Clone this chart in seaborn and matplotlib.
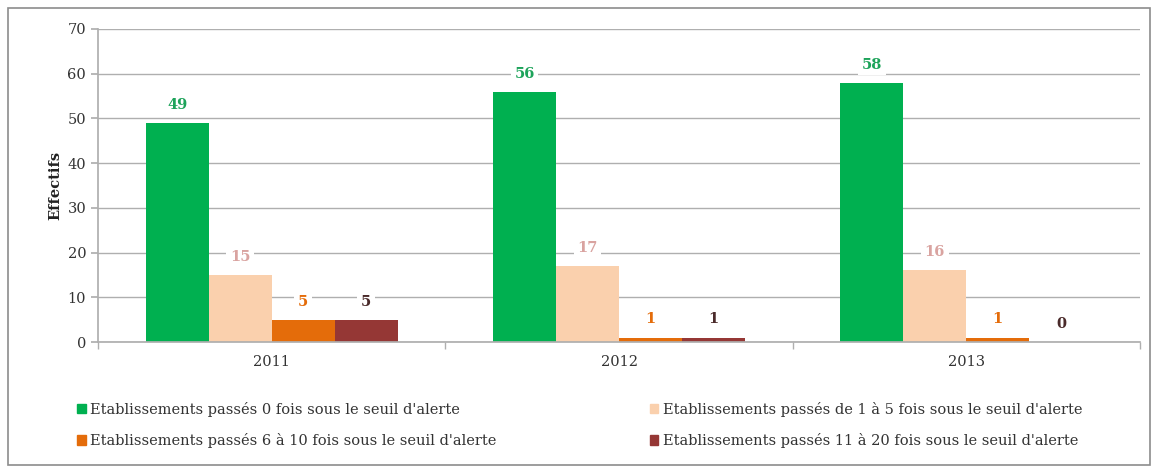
import matplotlib
matplotlib.use("Agg")
import matplotlib.pyplot as plt
import seaborn as sns
import pandas as pd
from matplotlib.patches import Rectangle, Patch

years = ["2011", "2012", "2013"]
series = [
    "Etablissements passés 0 fois sous le seuil d'alerte",
    "Etablissements passés de 1 à 5 fois sous le seuil d'alerte",
    "Etablissements passés 6 à 10 fois sous le seuil d'alerte",
    "Etablissements passés 11 à 20 fois sous le seuil d'alerte",
]
v0 = [49, 56, 58]
v1_5 = [15, 17, 16]
v6_10 = [5, 1, 1]
v11_20 = [5, 1, 0]
colors = ["#00B050", "#FAD0AD", "#E46C0A", "#953735"]
label_colors = ["#1DA35A", "#D9A3A0", "#E46C0A", "#4A2A2A"]

rows = []
for s, vals in zip(series, [v0, v1_5, v6_10, v11_20]):
    for y, v in zip(years, vals):
        rows.append({"Année": y, "Série": s, "Effectifs": v})
df = pd.DataFrame(rows)

sns.set_theme(style="white")
plt.rcParams["font.family"] = ["DejaVu Serif"]

fig = plt.figure(figsize=(11.59, 4.71), dpi=100)
ax = fig.add_axes([98/1159, 1-342/471, (1140-98)/1159, (342-29)/471])

sns.barplot(data=df, x="Année", y="Effectifs", hue="Série", hue_order=series,
            palette=colors, width=0.726, saturation=1, ax=ax, legend=False,
            edgecolor="none", linewidth=0)

ax.set_ylim(0, 70)
ax.set_yticks(range(0, 71, 10))
ax.grid(axis="y", color="#AFAFAF", linewidth=1)
ax.set_axisbelow(True)
for side in ["top", "right"]:
    ax.spines[side].set_visible(False)
ax.spines["left"].set_color("#AFAFAF")
ax.spines["bottom"].set_color("#AFAFAF")
ax.tick_params(axis="y", left=True, length=5, color="#AFAFAF", labelsize=10.5, labelcolor="#333333")
ax.tick_params(axis="x", bottom=False, labelsize=10.5, labelcolor="#333333")
ax.set_xticks([-0.5, 0.5, 1.5, 2.5], minor=True)
ax.tick_params(axis="x", which="minor", bottom=True, length=5, color="#AFAFAF")
ax.set_xlim(-0.5, 2.5)
ax.set_xlabel("")
ax.set_ylabel("Effectifs", fontsize=10.5, fontweight="bold", color="#222222")

for i, cont in enumerate(ax.containers):
    for bar in cont:
        h = bar.get_height()
        ax.annotate(f"{int(h)}", (bar.get_x() + bar.get_width()/2, h),
                    xytext=(0, 13), textcoords="offset points", ha="center", va="center",
                    fontsize=10.5, fontweight="bold", color=label_colors[i],
                    bbox=dict(boxstyle="square,pad=0.25", fc="white", ec="none"))

order = [0, 2, 1, 3]
handles = [Patch(color=colors[k]) for k in order]
labels = [series[k] for k in order]
fig.legend(handles, labels, ncol=2, loc="center", bbox_to_anchor=(0.5, 1-425/471),
           frameon=False, fontsize=10.5, handlelength=0.6, handleheight=0.6,
           handletextpad=0.3, columnspacing=10.5, labelspacing=1.1, labelcolor="#333333")

fig.patches.append(Rectangle((8/1159, 1-465/471), (1150-8)/1159, (465-8)/471,
                             transform=fig.transFigure, fill=False, ec="#8C8C8C", lw=1.2))

fig.savefig("out.png", dpi=100)
